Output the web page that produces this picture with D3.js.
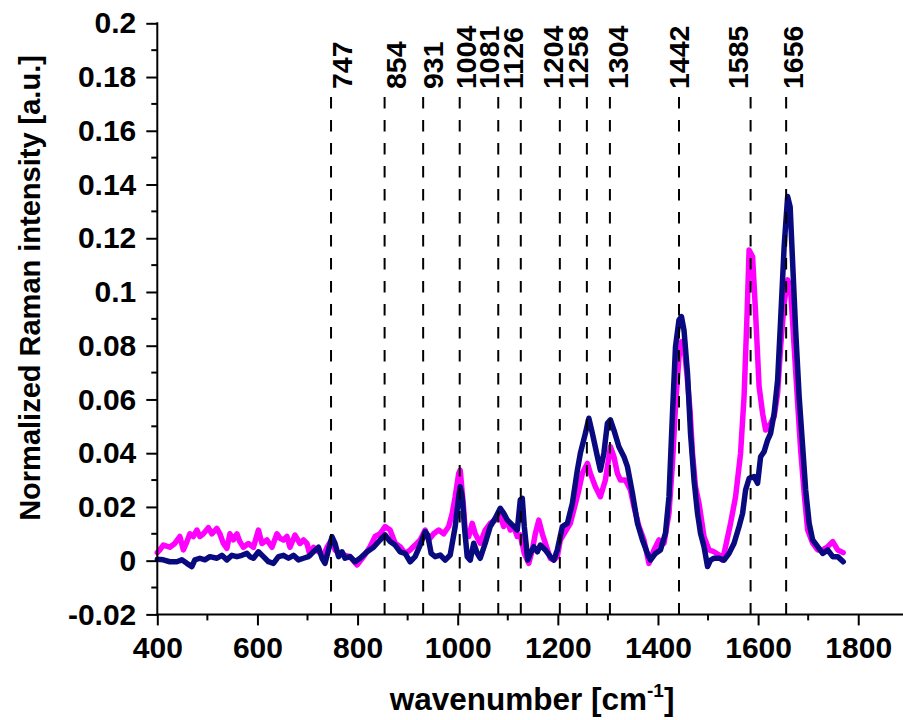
<!DOCTYPE html>
<html>
<head>
<meta charset="utf-8">
<script src="https://cdn.jsdelivr.net/npm/d3@7"></script>
<style>
  body { margin: 0; background: #fff; }
  svg { display: block; background: #fff; }
  text { font-family: "Liberation Sans", Arial, sans-serif; font-weight: bold; fill: #000; }
</style>
</head>
<body>
<svg id="chart" width="903" height="720"></svg>
<script>
// ---------------- data ----------------
const peakPositions = [747, 854, 931, 1004, 1081, 1126, 1204, 1258, 1304, 1442, 1585, 1656];
const peakLabels = ["747", "854", "931", "1004", "1081", "1126", "1204", "1258", "1304", "1442", "1585", "1656"];

const xTickValues = [400, 600, 800, 1000, 1200, 1400, 1600, 1800];
const xTickLabels = ["400", "600", "800", "1000", "1200", "1400", "1600", "1800"];
const yTickValues = [-0.02, 0, 0.02, 0.04, 0.06, 0.08, 0.1, 0.12, 0.14, 0.16, 0.18, 0.2];
const yTickLabels = ["-0.02", "0", "0.02", "0.04", "0.06", "0.08", "0.1", "0.12", "0.14", "0.16", "0.18", "0.2"];

const magentaWavenumber = [400,405,412,425,435,445,452,459,465,472,479,485,492,502,509,519,525,532,539,545,552,559,565,572,582,592,602,609,619,629,639,645,652,659,665,675,685,692,699,705,712,722,732,739,749,755,765,775,785,799,812,825,835,845,855,865,875,885,895,905,915,925,935,942,952,962,972,982,989,995,1002,1005,1011,1015,1022,1029,1035,1045,1055,1065,1075,1085,1092,1099,1105,1112,1119,1125,1133,1142,1149,1155,1162,1169,1175,1185,1192,1199,1205,1215,1225,1232,1242,1249,1259,1265,1275,1285,1295,1305,1312,1319,1325,1335,1345,1352,1362,1372,1382,1392,1402,1412,1422,1429,1435,1442,1447,1452,1458,1464,1469,1475,1482,1492,1502,1512,1522,1529,1535,1545,1555,1565,1572,1578,1582,1589,1595,1602,1609,1615,1625,1632,1639,1645,1652,1659,1665,1672,1679,1685,1692,1699,1709,1719,1729,1739,1749,1759,1770];
const magentaIntensity = [0.003,0.004,0.0058,0.005,0.0064,0.009,0.004,0.007,0.010,0.009,0.0114,0.009,0.010,0.0123,0.010,0.012,0.010,0.0064,0.0046,0.010,0.0077,0.010,0.007,0.005,0.0064,0.005,0.0114,0.0064,0.0077,0.005,0.010,0.0083,0.0077,0.009,0.005,0.0095,0.0064,0.0077,0.0064,0.002,0.005,0.0033,0.002,0.005,0.008,0.004,0.0027,0.002,0.0015,-0.0016,0.0015,0.0052,0.009,0.010,0.0127,0.0114,0.0065,0.0052,0.0027,0.004,0.0058,0.0077,0.0114,0.0077,0.010,0.0114,0.010,0.0127,0.0176,0.0238,0.0325,0.0337,0.0213,0.0114,0.009,0.0139,0.010,0.0065,0.0114,0.0139,0.0151,0.0164,0.0127,0.0151,0.0114,0.0127,0.009,0.0096,0.0027,-0.001,0.004,0.010,0.0151,0.010,0.0065,0.0008,0.0002,0.0015,0.0077,0.0108,0.0139,0.0189,0.0263,0.0325,0.0362,0.0325,0.0275,0.0238,0.030,0.0424,0.0387,0.0325,0.030,0.030,0.0263,0.0201,0.0127,0.0077,-0.001,0.004,0.0077,0.0065,0.0176,0.0362,0.0573,0.0759,0.0815,0.0800,0.0690,0.0560,0.040,0.0275,0.0213,0.0089,0.004,0.0033,0.0021,0.0002,0.0052,0.0139,0.0238,0.040,0.0611,0.092,0.1156,0.1131,0.092,0.0648,0.0548,0.0486,0.0511,0.0536,0.0623,0.0796,0.0958,0.1045,0.1007,0.0796,0.0586,0.0412,0.0251,0.0114,0.0065,0.004,0.004,0.0052,0.0071,0.004,0.003];

const navyWavenumber = [400,412,425,439,449,459,469,475,485,495,505,519,529,539,549,559,569,579,585,592,602,612,622,632,642,652,662,672,682,692,702,712,722,729,735,742,749,755,762,769,775,785,795,805,819,832,845,855,865,875,885,895,905,915,925,935,940,947,955,965,975,985,995,1002,1005,1009,1014,1019,1025,1032,1039,1045,1055,1065,1075,1085,1092,1099,1109,1119,1125,1129,1133,1140,1145,1152,1159,1165,1175,1185,1192,1199,1209,1219,1229,1239,1245,1255,1262,1269,1279,1285,1292,1299,1305,1312,1322,1332,1339,1349,1359,1369,1379,1385,1395,1405,1415,1422,1429,1435,1442,1447,1452,1459,1465,1472,1479,1485,1492,1499,1505,1512,1522,1532,1542,1552,1562,1569,1575,1582,1592,1599,1605,1612,1619,1625,1632,1639,1645,1652,1659,1664,1669,1675,1682,1689,1695,1702,1709,1719,1729,1739,1749,1759,1770];
const navyIntensity = [0.0005,0.0003,-0.0004,-0.0004,0.0003,-0.001,-0.0022,0.0003,0.0009,0.0003,0.0015,0.0009,0.002,0.0003,0.002,0.0015,0.002,0.0027,0.0015,0.0009,0.0033,0.0015,-0.0004,-0.001,0.0015,0.002,0.0009,0.002,0.0003,0.0009,0.0015,0.0033,0.005,0.0009,-0.001,0.004,0.0089,0.0064,0.0015,0.0033,0.0009,0.0015,-0.0004,0.0009,0.0033,0.005,0.0077,0.0096,0.0071,0.0058,0.0033,0.0027,-0.0004,0.0015,0.0058,0.0108,0.0096,0.0027,0.0015,0.0021,0.0002,0.0021,0.0127,0.0238,0.0275,0.0238,0.0114,0.0015,0.0002,0.0065,0.0027,0.0009,0.0065,0.0127,0.0158,0.0195,0.0176,0.0151,0.0133,0.0114,0.0226,0.0232,0.0127,0.0002,0.0027,0.0052,0.0033,0.0058,0.004,0.0015,0.0002,0.004,0.0127,0.0139,0.0213,0.0337,0.040,0.0474,0.053,0.0474,0.0387,0.0337,0.040,0.0511,0.0524,0.0486,0.0424,0.0387,0.035,0.0251,0.0139,0.0077,0.0027,0.0002,0.0027,0.004,0.0102,0.0238,0.0548,0.0796,0.0896,0.0908,0.0858,0.0697,0.0474,0.030,0.0176,0.0102,0.0052,-0.0022,0.0002,0.0009,0.0009,0.0002,0.0027,0.0065,0.0127,0.0176,0.0263,0.0306,0.0313,0.0288,0.0387,0.0406,0.0449,0.0474,0.0548,0.0672,0.0896,0.1169,0.1355,0.1317,0.1107,0.0858,0.061,0.0424,0.0263,0.0139,0.0077,0.0052,0.0027,0.004,0.0015,0.0015,-0.0004];

// ---------------- layout (not data) ----------------
const W = 903, H = 720;
const plot = { left: 157.3, right: 903.3, top: 23.3, bottom: 614.4 };
const xDomain = [400, 1890];
const yDomain = [-0.02, 0.2];
// manual horizontal nudge of each peak label relative to its dashed line (px)
const peakLabelNudge = [10.5, 10.9, 9.3, 6.3, -9.3, -8.3, -7.4, -9.6, 7.6, 0, -13.1, 6.3];

const svg = d3.select("#chart");
svg.append("rect").attr("width", W).attr("height", H).attr("fill", "#fff");

const x = d3.scaleLinear().domain(xDomain).range([plot.left, plot.right]);
const y = d3.scaleLinear().domain(yDomain).range([plot.bottom, plot.top]);

// ---------- curves ----------
const line = d3.line().x(d => x(d[0])).y(d => y(d[1])).curve(d3.curveLinear);
const magenta = magentaWavenumber.map((w, i) => [w, magentaIntensity[i]]);
const navy = navyWavenumber.map((w, i) => [w, navyIntensity[i]]);

svg.append("path").datum(magenta).attr("d", line)
  .attr("fill", "none").attr("stroke", "#ff00ff").attr("stroke-width", 5.5)
  .attr("stroke-linejoin", "round").attr("stroke-linecap", "round");
svg.append("path").datum(navy).attr("d", line)
  .attr("fill", "none").attr("stroke", "#0a0a80").attr("stroke-width", 5.5)
  .attr("stroke-linejoin", "round").attr("stroke-linecap", "round");

// ---------- dashed peak lines ----------
const dashTop = 97;
svg.append("g").selectAll("line").data(peakPositions).join("line")
  .attr("x1", d => x(d)).attr("x2", d => x(d))
  .attr("y1", dashTop).attr("y2", plot.bottom)
  .attr("stroke", "#000").attr("stroke-width", 2)
  .attr("stroke-dasharray", "11.5,11.5");

// ---------- peak labels ----------
const labelFont = 28.5;
svg.append("g").selectAll("text").data(peakPositions).join("text")
  .attr("transform", (d, i) => `translate(${x(d) + peakLabelNudge[i] + labelFont * 0.36},${dashTop - 8}) rotate(-90)`)
  .attr("text-anchor", "start")
  .style("font-size", labelFont + "px")
  .text((d, i) => peakLabels[i]);

// ---------- axes ----------
const tickFont = 30;
const xAxis = d3.axisBottom(x).tickValues(xTickValues)
  .tickFormat((d, i) => xTickLabels[i]).tickSize(11).tickSizeOuter(0).tickPadding(11);
const gx = svg.append("g").attr("transform", `translate(0,${plot.bottom})`).call(xAxis);
const yAxis = d3.axisLeft(y).tickValues(yTickValues)
  .tickFormat((d, i) => yTickLabels[i]).tickSize(11).tickSizeOuter(0).tickPadding(10);
const gy = svg.append("g").attr("transform", `translate(${plot.left},0)`).call(yAxis);

[gx, gy].forEach(g => {
  g.attr("font-size", null).attr("font-family", null);
  g.select(".domain").remove();
  g.selectAll(".tick line").attr("stroke", "#000").attr("stroke-width", 2);
  g.selectAll(".tick text").style("font-size", tickFont + "px").attr("fill", "#000");
});

// minor ticks
const xMinor = d3.range(500, 1900, 200);
const yMinor = d3.range(-0.01, 0.2, 0.02);
svg.append("g").selectAll("line").data(xMinor).join("line")
  .attr("x1", d => x(d)).attr("x2", d => x(d))
  .attr("y1", plot.bottom).attr("y2", plot.bottom + 6)
  .attr("stroke", "#000").attr("stroke-width", 2);
svg.append("g").selectAll("line").data(yMinor).join("line")
  .attr("x1", plot.left - 6).attr("x2", plot.left)
  .attr("y1", d => y(d)).attr("y2", d => y(d))
  .attr("stroke", "#000").attr("stroke-width", 2);

// axis lines
svg.append("line").attr("x1", plot.left).attr("x2", plot.left)
  .attr("y1", plot.top - 1).attr("y2", plot.bottom + 1)
  .attr("stroke", "#000").attr("stroke-width", 2);
svg.append("line").attr("x1", plot.left - 1).attr("x2", plot.right)
  .attr("y1", plot.bottom).attr("y2", plot.bottom)
  .attr("stroke", "#000").attr("stroke-width", 2);

// ---------- axis titles ----------
const xt = svg.append("text").attr("x", 532).attr("y", 710)
  .attr("text-anchor", "middle").style("font-size", "31.5px");
xt.append("tspan").text("wavenumber [cm");
xt.append("tspan").attr("dy", -13).style("font-size", "19px").text("-1");
xt.append("tspan").attr("dy", 13).text("]");

svg.append("text")
  .attr("transform", "translate(40,288) rotate(-90)")
  .attr("text-anchor", "middle").style("font-size", "29px")
  .text("Normalized Raman intensity [a.u.]");
</script>
</body>
</html>
